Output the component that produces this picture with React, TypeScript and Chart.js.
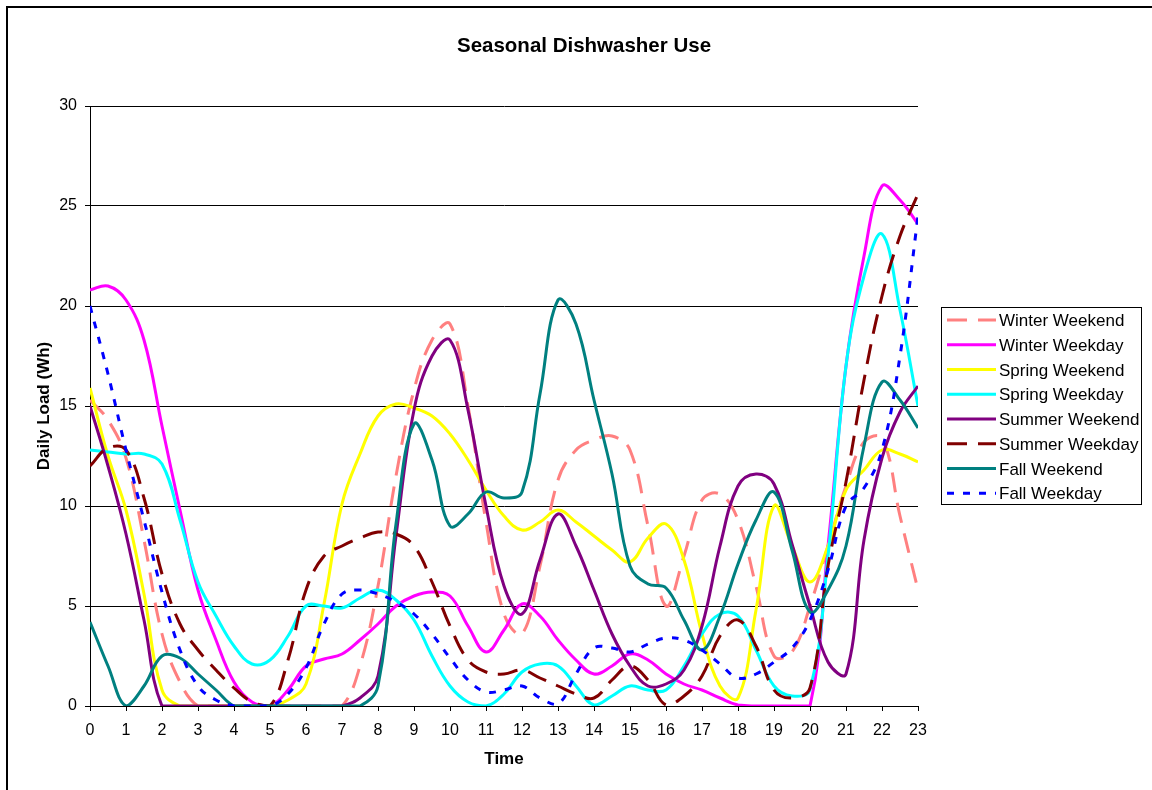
import { useEffect, useRef } from "react";
import { Chart, registerables } from "chart.js";

Chart.register(...registerables);

// Half-hour sample times 0 .. 23
const times: number[] = [
  0, 0.5, 1, 1.5, 2, 2.5, 3, 3.5, 4, 4.5, 5, 5.5, 6, 6.5, 7, 7.5, 8, 8.5, 9, 9.5,
  10, 10.5, 11, 11.5, 12, 12.5, 13, 13.5, 14, 14.5, 15, 15.5, 16, 16.5, 17, 17.5,
  18, 18.5, 19, 19.5, 20, 20.5, 21, 21.5, 22, 22.5, 23,
];
const hourTicks: number[] = [
  0, 1, 2, 3, 4, 5, 6, 7, 8, 9, 10, 11, 12, 13, 14, 15, 16, 17, 18, 19, 20, 21, 22, 23,
];
const yTicks: number[] = [0, 5, 10, 15, 20, 25, 30];

const winterWeekend: number[] = [
  15.3, 14.3, 12.4, 8.3, 3.6, 1.2, 0, 0, 0, 0, 0, 0, 0, 0, 0, 2.0, 6.0, 11.5, 15.8, 18.3,
  19.1, 15.0, 9.2, 4.6, 3.6, 7.0, 11.3, 12.8, 13.3, 13.5, 12.8, 9.0, 5.0, 7.5, 10.3, 10.6,
  9.3, 6.0, 2.5, 2.7, 5.0, 8.0, 11.0, 13.2, 13.4, 9.5, 5.8,
];
const winterWeekday: number[] = [
  20.8, 21.0, 20.3, 18.3, 14.0, 9.8, 5.8, 3.3, 1.2, 0.2, 0, 0.8, 2.0, 2.35, 2.6, 3.3, 4.1, 5.0, 5.5, 5.7,
  5.5, 4.0, 2.7, 3.8, 5.1, 4.5, 3.3, 2.3, 1.6, 2.0, 2.6, 2.3, 1.6, 1.1, 0.8, 0.4,
  0.05, 0, 0, 0, 0, 8.0, 17.0, 22.5, 26.0, 25.3, 24.1,
];
const springWeekend: number[] = [
  15.9, 12.5, 9.8, 5.6, 0.8, 0, 0, 0, 0, 0, 0, 0.3, 1.1, 5.1, 10.1, 12.6, 14.5, 15.1, 14.9, 14.5,
  13.6, 12.3, 10.8, 9.5, 8.8, 9.2, 9.8, 9.2, 8.5, 7.8, 7.2, 8.4, 9.1, 7.3, 3.6, 1.0,
  0.4, 4.8, 10.0, 8.0, 6.2, 8.0, 10.8, 11.8, 12.8, 12.6, 12.2,
];
const springWeekday: number[] = [
  12.8, 12.7, 12.6, 12.6, 12.1, 9.3, 6.2, 4.5, 3.0, 2.1, 2.3, 3.5, 5.0, 5.0, 4.9, 5.4, 5.8, 5.3, 4.3, 2.5,
  1.0, 0.2, 0, 0.6, 1.7, 2.1, 2.0, 1.0, 0.05, 0.5, 1.0, 0.8, 0.8, 2.0, 3.6, 4.6,
  4.5, 2.8, 1.0, 0.5, 0.8, 7.5, 17.0, 21.5, 23.6, 19.8, 15.0,
];
const summerWeekend: number[] = [
  15.0, 12.0, 8.6, 4.3, 0, 0, 0, 0, 0, 0, 0, 0, 0, 0, 0, 0.4, 1.5, 8.5, 14.8, 17.5,
  18.3, 14.8, 10.0, 6.0, 4.6, 7.3, 9.6, 8.0, 5.8, 3.6, 2.0, 1.0, 1.1, 1.8, 4.0, 8.0,
  11.0, 11.6, 11.1, 8.1, 5.0, 2.2, 1.6, 8.3, 12.4, 14.7, 16.0,
];
const summerWeekday: number[] = [
  12.0, 12.9, 12.8, 10.4, 6.6, 4.1, 2.8, 1.8, 0.9, 0.2, 0, 2.3, 5.8, 7.5, 8.0, 8.4, 8.7, 8.6, 8.0, 6.2,
  4.0, 2.3, 1.7, 1.6, 1.8, 1.4, 1.0, 0.6, 0.4, 1.3, 2.0, 1.3, 0.05, 0.5, 1.5, 3.5,
  4.3, 3.0, 0.8, 0.4, 0.9, 7.0, 11.2, 16.3, 20.5, 23.5, 25.6,
];
const fallWeekend: number[] = [
  4.2, 2.0, 0, 1.0, 2.5, 2.4, 1.6, 0.8, 0, 0, 0, 0, 0, 0, 0, 0, 1.0, 9.1, 14.1, 12.3,
  9.0, 9.6, 10.7, 10.4, 10.7, 15.6, 20.3, 19.1, 15.3, 11.6, 7.0, 6.1, 5.9, 4.3, 2.8, 4.5,
  7.1, 9.3, 10.7, 7.8, 4.7, 5.8, 8.0, 13.0, 16.2, 15.3, 13.9,
];
const fallWeekday: number[] = [
  20.0, 16.6, 12.8, 9.3, 5.7, 2.8, 1.0, 0.3, 0, 0, 0, 0.6, 1.9, 4.1, 5.6, 5.8, 5.6, 5.2, 4.6, 3.6,
  2.4, 1.3, 0.7, 0.8, 1.0, 0.4, 0.1, 1.6, 2.9, 2.9, 2.7, 3.1, 3.4, 3.3, 2.8, 2.1,
  1.4, 1.6, 2.2, 2.9, 4.3, 6.8, 10.0, 10.9, 12.8, 17.5, 24.5,
];

const seriesNames: string[] = [
  "Winter Weekend",
  "Winter Weekday",
  "Spring Weekend",
  "Spring Weekday",
  "Summer Weekend",
  "Summer Weekday",
  "Fall Weekend",
  "Fall Weekday",
];
const seriesValues: number[][] = [
  winterWeekend,
  winterWeekday,
  springWeekend,
  springWeekday,
  summerWeekend,
  summerWeekday,
  fallWeekend,
  fallWeekday,
];
const seriesColors: string[] = [
  "#FF8080",
  "#FF00FF",
  "#FFFF00",
  "#00FFFF",
  "#800080",
  "#800000",
  "#008080",
  "#0000FF",
];
const seriesDashes: number[][] = [[20, 11], [], [], [], [], [20, 11], [], [7, 9]];

const FONT = "'Liberation Sans', Arial, sans-serif";

const decorPlugin = {
  id: "decor",
  afterDraw(chart: any) {
    const ctx: CanvasRenderingContext2D = chart.ctx;
    ctx.save();
    ctx.fillStyle = "#000";
    // Title
    ctx.font = `bold 20.5px ${FONT}`;
    ctx.textAlign = "center";
    ctx.textBaseline = "middle";
    ctx.fillText("Seasonal Dishwasher Use", 584, 46);
    // Axis titles
    ctx.font = `bold 17px ${FONT}`;
    ctx.fillText("Time", 504, 759);
    ctx.save();
    ctx.translate(44, 406);
    ctx.rotate(-Math.PI / 2);
    ctx.fillText("Daily Load (Wh)", 0, 0);
    ctx.restore();
    // Legend
    ctx.lineWidth = 1;
    ctx.strokeStyle = "#000";
    ctx.strokeRect(941.5, 307.5, 200, 197);
    ctx.font = `17px ${FONT}`;
    ctx.textAlign = "left";
    for (let i = 0; i < seriesNames.length; i++) {
      const y = 320 + i * 24.75;
      ctx.save();
      ctx.strokeStyle = seriesColors[i];
      ctx.lineWidth = 3;
      ctx.setLineDash(seriesDashes[i]);
      ctx.beginPath();
      ctx.moveTo(947, y);
      ctx.lineTo(996, y);
      ctx.stroke();
      ctx.restore();
      ctx.fillStyle = "#000";
      ctx.fillText(seriesNames[i], 999, y + 1.5);
    }
    ctx.restore();
  },
};

export default function App() {
  const canvasRef = useRef<HTMLCanvasElement | null>(null);

  useEffect(() => {
    if (!canvasRef.current) return;
    const datasets = seriesValues.map((vals, i) => ({
      label: seriesNames[i],
      data: times.map((t, j) => ({ x: t, y: vals[j] })),
      borderColor: seriesColors[i],
      backgroundColor: seriesColors[i],
      borderWidth: 3,
      borderDash: seriesDashes[i],
      borderCapStyle: "butt" as const,
      borderJoinStyle: "round" as const,
      pointRadius: 0,
      tension: 0.4,
      fill: false,
      order: seriesNames.length - 1 - i,
    }));

    const chart = new Chart(canvasRef.current, {
      type: "line",
      data: { datasets },
      options: {
        animation: false,
        responsive: false,
        devicePixelRatio: 1,
        layout: { padding: { left: 0, top: 106, right: 234, bottom: 0 } },
        plugins: {
          legend: { display: false },
          title: { display: false },
          tooltip: { enabled: false },
        },
        scales: {
          x: {
            type: "linear",
            min: 0,
            max: 23,
            afterFit: (s: any) => {
              s.height = 84;
            },
            afterBuildTicks: (s: any) => {
              s.ticks = hourTicks.map((v) => ({ value: v }));
            },
            ticks: {
              autoSkip: false,
              maxRotation: 0,
              padding: 10,
              color: "#000",
              font: { family: FONT, size: 16 },
            },
            grid: {
              drawOnChartArea: false,
              drawTicks: true,
              tickLength: 5,
              color: "#000",
            },
            border: { color: "#000", width: 1 },
          },
          y: {
            type: "linear",
            min: 0,
            max: 30,
            afterFit: (s: any) => {
              s.width = 90;
            },
            afterBuildTicks: (s: any) => {
              s.ticks = yTicks.map((v) => ({ value: v }));
            },
            ticks: {
              padding: 8,
              color: "#000",
              font: { family: FONT, size: 16 },
            },
            grid: { color: "#000", tickLength: 5, lineWidth: 1 },
            border: { color: "#000", width: 1 },
          },
        },
      },
      plugins: [decorPlugin],
    });
    return () => chart.destroy();
  }, []);

  return (
    <div>
      <canvas
        ref={canvasRef}
        width={1152}
        height={790}
        style={{ position: "fixed", left: 0, top: 0, width: 1152, height: 790, background: "#fff" }}
      />
      <div
        style={{
          position: "fixed",
          left: 6,
          top: 6,
          width: 1200,
          height: 900,
          border: "2px solid #000",
          pointerEvents: "none",
        }}
      />
    </div>
  );
}
